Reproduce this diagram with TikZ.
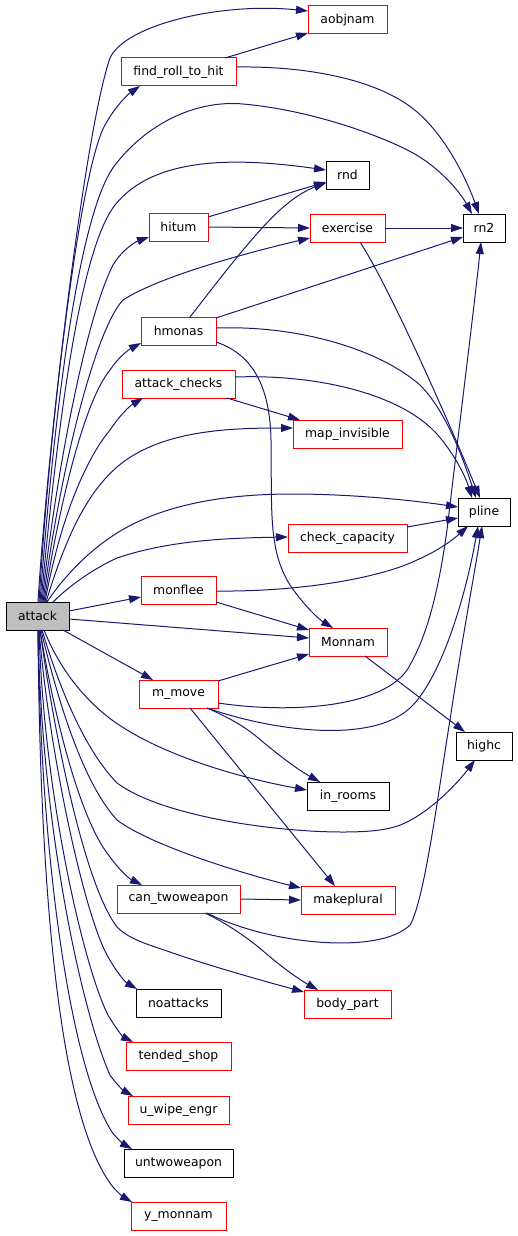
\documentclass[tikz,border=0pt]{standalone}
\usepackage{fontspec}
\setmainfont{DejaVu Sans}
\usetikzlibrary{arrows.meta,calc}
\definecolor{edgec}{HTML}{191970}
\definecolor{attfill}{HTML}{BFBFBF}
\begin{document}
\begin{tikzpicture}[x=1pt,y=-1pt,
  box/.style={draw,line width=1pt,minimum height=28pt,inner sep=0pt,outer sep=0pt,font=\fontsize{12.4}{14}\selectfont,anchor=center},
  redbox/.style={box,draw=red},
  blkbox/.style={box,draw=black},
  conn/.style={draw=edgec,line width=1pt,-{Triangle[length=12pt,width=8pt]}}
]
\useasboundingbox (0,0) rectangle (517,1236);

% nodes
\node[box,draw=black,fill=attfill,minimum width=63pt] (attack) at (37.5,616) {attack};
\node[redbox,minimum width=79pt] (aobjnam) at (347.5,20) {aobjnam};
\node[redbox,minimum width=115pt] (find) at (178.5,72) {find\_roll\_to\_hit};
\node[blkbox,minimum width=43pt] (rnd) at (347.5,175) {rnd};
\node[redbox,minimum width=59pt] (hitum) at (178.5,227) {hitum};
\node[redbox,minimum width=75pt] (exercise) at (347.5,228) {exercise};
\node[blkbox,minimum width=42pt] (rn2) at (484,228) {rn2};
\node[redbox,minimum width=75pt] (hmonas) at (178.5,331) {hmonas};
\node[redbox,minimum width=113pt] (achecks) at (178.5,384) {attack\_checks};
\node[redbox,minimum width=109pt] (mapinv) at (347.5,434) {map\_invisible};
\node[blkbox,minimum width=52pt] (pline) at (484,512) {pline};
\node[redbox,minimum width=119pt] (checkcap) at (347.5,538) {check\_capacity};
\node[redbox,minimum width=75pt] (monflee) at (178.5,590) {monflee};
\node[redbox,minimum width=78pt] (Monnam) at (348,642) {Monnam};
\node[redbox,minimum width=79pt] (mmove) at (178.5,694) {m\_move};
\node[blkbox,minimum width=56pt] (highc) at (484,746) {highc};
\node[blkbox,minimum width=82pt] (inrooms) at (348,796) {in\_rooms};
\node[redbox,minimum width=123pt] (cantwo) at (178.5,899) {can\_twoweapon};
\node[redbox,minimum width=94pt] (makeplural) at (348,900) {makeplural};
\node[blkbox,minimum width=85pt] (noattacks) at (178.5,1003) {noattacks};
\node[redbox,minimum width=87pt] (bodypart) at (347.5,1004) {body\_part};
\node[redbox,minimum width=105pt] (tended) at (178.5,1056) {tended\_shop};
\node[redbox,minimum width=101pt] (uwipe) at (178.5,1110) {u\_wipe\_engr};
\node[blkbox,minimum width=109pt] (untwo) at (178.5,1163) {untwoweapon};
\node[redbox,minimum width=95pt] (ymonnam) at (178.5,1216) {y\_monnam};

% edges from attack, upward
\draw[conn] ([xshift=0.5pt]attack.north) .. controls (48,440) and (85,130) .. (110,58) .. controls (125,25) and (220,2) .. ([yshift=9pt]aobjnam.west);
\draw[conn] ([xshift=1.5pt]attack.north) .. controls (50,420) and (80,170) .. (105,125) .. controls (115,107) and (127,95) .. ([xshift=-38.5pt]find.south);
\draw[conn] ([xshift=2.5pt]attack.north) .. controls (55,400) and (80,210) .. (115,165) .. controls (150,120) and (200,100) .. (243,104) .. controls (310,110) and (380,135) .. (413,153) .. controls (440,168) and (460,192) .. ([xshift=-12pt]rn2.north);
\draw[conn] ([xshift=3.5pt]attack.north) .. controls (58,420) and (80,250) .. (115,205) .. controls (155,155) and (240,158) .. ([yshift=5pt]rnd.west);
\draw[conn] ([xshift=4.5pt]attack.north) .. controls (55,480) and (85,320) .. (113,265) .. controls (122,250) and (135,242) .. ([yshift=-10pt]hitum.west);
\draw[conn] ([xshift=5.5pt]attack.north) .. controls (60,470) and (95,330) .. (123,300) .. controls (160,276) and (250,252) .. ([yshift=-10pt]exercise.west);
\draw[conn] ([xshift=6.5pt]attack.north) .. controls (60,500) and (85,400) .. (110,370) .. controls (118,358) and (128,350) .. ([yshift=-12pt]hmonas.west);
\draw[conn] ([xshift=7.5pt]attack.north) .. controls (60,520) and (85,460) .. (110,430) .. controls (118,418) and (128,407) .. ([xshift=-35.5pt]achecks.south);
\draw[conn] ([xshift=8.5pt]attack.north) .. controls (65,540) and (85,495) .. (117,467) .. controls (160,430) and (230,428) .. ([yshift=6pt]mapinv.west);
\draw[conn] ([xshift=9.5pt]attack.north) .. controls (65,575) and (90,550) .. (117,533) .. controls (170,500) and (240,494) .. (293,494) .. controls (350,494) and (410,500) .. ([yshift=5pt]pline.west);
\draw[conn] ([xshift=15.5pt]attack.north) .. controls (70,585) and (95,568) .. (117,558) .. controls (170,540) and (230,538) .. ([yshift=1pt]checkcap.west);
% edges from attack, sideways
\draw[conn] ([yshift=5pt]attack.east) -- ([yshift=-7pt]monflee.west);
\draw[conn] ([yshift=-3pt]attack.east) -- ([yshift=4pt]Monnam.west);
\draw[conn] ([xshift=25.5pt]attack.south) -- ([xshift=-25.5pt]mmove.north);
% edges from attack, downward
\draw[conn] ([xshift=6.5pt]attack.south) .. controls (60,670) and (85,700) .. (112,720) .. controls (160,755) and (240,778) .. ([yshift=6pt]inrooms.west);
\draw[conn] ([xshift=4.5pt]attack.south) .. controls (60,690) and (85,750) .. (117,783) .. controls (160,815) and (270,832) .. (343,832) .. controls (380,832) and (395,828) .. (407,822) .. controls (435,808) and (460,780) .. ([xshift=-9pt]highc.south);
\draw[conn] ([xshift=3.5pt]attack.south) .. controls (60,710) and (85,785) .. (117,820) .. controls (150,845) and (240,873) .. ([yshift=12pt]makeplural.west);
\draw[conn] ([xshift=2.5pt]attack.south) .. controls (55,720) and (80,820) .. (110,857) .. controls (118,868) and (128,878) .. ([xshift=-36.5pt]cantwo.north);
\draw[conn] ([xshift=2.5pt]attack.south) .. controls (55,740) and (85,885) .. (117,927) .. controls (130,940) and (150,945) .. (170,952) .. controls (210,966) and (260,980) .. ([yshift=12pt]bodypart.west);
\draw[conn] ([xshift=1.5pt]attack.south) .. controls (50,760) and (85,915) .. (107,955) .. controls (115,970) and (125,982) .. ([xshift=-41.5pt]noattacks.north);
\draw[conn] ([xshift=1.5pt]attack.south) .. controls (44,800) and (85,970) .. (108,1015) .. controls (115,1027) and (123,1037) .. ([xshift=-45.5pt]tended.north);
\draw[conn] ([xshift=0.5pt]attack.south) .. controls (42,840) and (85,1020) .. (110,1075) .. controls (117,1085) and (124,1091) .. ([xshift=-45.5pt]uwipe.north);
\draw[conn] ([xshift=0.5pt]attack.south) .. controls (41,870) and (72,1070) .. (112,1132) .. controls (118,1140) and (125,1145) .. ([xshift=-46.5pt]untwo.north);
\draw[conn] ([xshift=0.5pt]attack.south) .. controls (40,900) and (60,1120) .. (113,1187) .. controls (119,1194) and (125,1198) .. ([xshift=-46.5pt]ymonnam.north);

% other edges
\draw[conn] ([xshift=46.5pt]find.north) -- ([yshift=-13pt]aobjnam.west);
\draw[conn] ([yshift=5pt]find.east) .. controls (310,66) and (370,80) .. (405,103) .. controls (440,125) and (465,175) .. ([xshift=-5pt]rn2.north);
\draw[conn] ([yshift=10pt]hitum.east) -- ([yshift=-7pt]rnd.west);
\draw[conn] (hitum.east) -- (exercise.west);
\draw[conn] ([xshift=11.5pt]hmonas.north) .. controls (215,285) and (260,225) .. (287,204) .. controls (300,193) and (312,188) .. ([yshift=-8pt]rnd.west);
\draw[conn] ([yshift=13pt]hmonas.east) -- ([yshift=-9pt]rn2.west);
\draw[conn] ([yshift=3pt]hmonas.east) .. controls (300,325) and (380,350) .. (420,385) .. controls (445,410) and (462,455) .. ([xshift=-8pt]pline.north);
\draw[conn] ([yshift=-11pt]hmonas.east) .. controls (255,355) and (270,390) .. (271,440) .. controls (272,510) and (268,550) .. (290,585) .. controls (305,607) and (320,620) .. ([xshift=-15pt]Monnam.north);
\draw[conn] (exercise.east) -- (rn2.west);
\draw[conn] ([xshift=12.5pt]exercise.south) .. controls (385,280) and (440,400) .. ([xshift=-4pt]pline.north);
\draw[conn] ([xshift=48.5pt]achecks.south) -- ([xshift=-47.5pt]mapinv.north);
\draw[conn] ([yshift=7pt]achecks.east) .. controls (320,374) and (400,395) .. (435,432) .. controls (452,450) and (465,475) .. ([xshift=-12pt]pline.north);
\draw[conn] ([yshift=11pt]checkcap.east) -- ([yshift=-6pt]pline.west);
\draw[conn] ([yshift=-1pt]monflee.east) .. controls (300,592) and (380,578) .. (417,560) .. controls (440,550) and (455,538) .. ([xshift=-16pt]pline.south);
\draw[conn] ([yshift=-12pt]monflee.east) -- ([yshift=12pt]Monnam.west);
\draw[conn] ([xshift=17pt]Monnam.south) -- ([xshift=-19pt]highc.north);
\draw[conn] ([yshift=13pt]mmove.east) -- ([yshift=-12pt]Monnam.west);
\draw[conn] ([yshift=-9pt]mmove.east) .. controls (300,715) and (390,705) .. (410,665) .. controls (430,630) and (440,580) .. (447,530) .. controls (460,420) and (475,300) .. ([xshift=-3pt]rn2.south);
\draw[conn] ([xshift=28.5pt]mmove.south) .. controls (270,730) and (370,745) .. (410,708) .. controls (440,680) and (465,600) .. ([xshift=-6pt]pline.south);
\draw[conn] ([xshift=28.5pt]mmove.south) .. controls (230,718) and (245,727) .. (257,737) .. controls (275,752) and (295,768) .. ([xshift=-28pt]inrooms.north);
\draw[conn] ([xshift=11.5pt]mmove.south) -- ([xshift=-13pt]makeplural.north);
\draw[conn] (cantwo.east) -- (makeplural.west);
\draw[conn] ([xshift=26.5pt]cantwo.south) .. controls (230,925) and (250,940) .. (262,950) .. controls (280,966) and (300,980) .. ([xshift=-29.5pt]bodypart.north);
\draw[conn] ([xshift=28.5pt]cantwo.south) .. controls (270,945) and (380,955) .. (410,925) .. controls (425,900) and (440,780) .. (450,720) .. controls (462,640) and (475,570) .. ([xshift=-2pt]pline.south);
\end{tikzpicture}
\end{document}
